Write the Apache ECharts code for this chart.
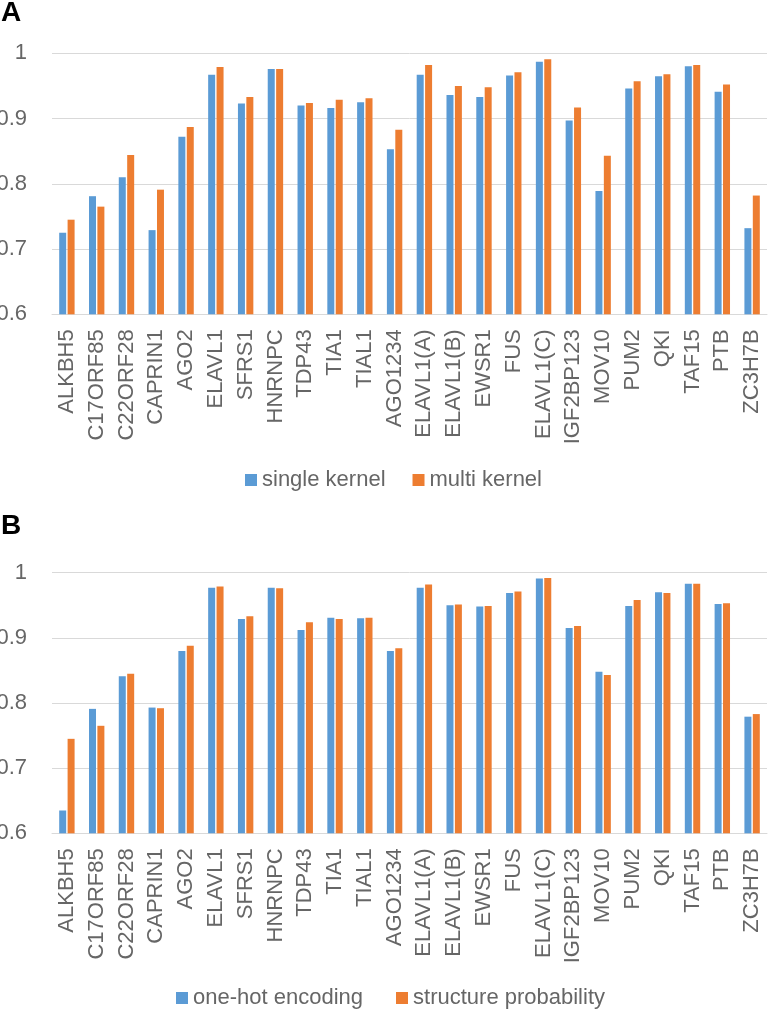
<!DOCTYPE html>
<html>
<head>
<meta charset="utf-8">
<script src="https://cdn.jsdelivr.net/npm/echarts@6/dist/echarts.min.js"></script>
<style>
html,body{margin:0;padding:0;background:#fff;}
#chart{width:768px;height:1011px;}
</style>
</head>
<body>
<div id="chart"></div>
<script>
const categories = ['ALKBH5','C17ORF85','C22ORF28','CAPRIN1','AGO2','ELAVL1','SFRS1','HNRNPC','TDP43','TIA1','TIAL1','AGO1234','ELAVL1(A)','ELAVL1(B)','EWSR1','FUS','ELAVL1(C)','IGF2BP123','MOV10','PUM2','QKI','TAF15','PTB','ZC3H7B'];
const singleKernel = [0.725,0.781,0.810,0.729,0.872,0.967,0.923,0.976,0.920,0.916,0.925,0.853,0.967,0.936,0.933,0.966,0.987,0.897,0.789,0.946,0.965,0.980,0.941,0.732];
const multiKernel  = [0.745,0.765,0.844,0.791,0.887,0.979,0.933,0.976,0.924,0.929,0.931,0.883,0.982,0.950,0.948,0.971,0.991,0.917,0.843,0.957,0.968,0.982,0.952,0.782];
const oneHot       = [0.635,0.791,0.841,0.793,0.880,0.977,0.929,0.977,0.912,0.931,0.930,0.880,0.977,0.950,0.948,0.969,0.991,0.915,0.848,0.949,0.970,0.983,0.952,0.779];
const structProb   = [0.745,0.765,0.845,0.792,0.888,0.979,0.933,0.976,0.924,0.929,0.931,0.884,0.982,0.951,0.949,0.971,0.992,0.918,0.843,0.958,0.969,0.983,0.953,0.783];
const yTicks = ['0.6','0.7','0.8','0.9','1'];
const seriesNamesA = ['single kernel','multi kernel'];
const seriesNamesB = ['one-hot encoding','structure probability'];

const BLUE = '#5B9BD5', ORANGE = '#ED7D31';
const TEXT = '#666666', GRID = '#d9d9d9';
const FONT = 'Arial, "Liberation Sans", sans-serif';

const chart = echarts.init(document.getElementById('chart'), null, {renderer:'canvas'});

function xAxis(gridIndex){
  return {
    type:'category', gridIndex, data: categories,
    axisLine:{show:true, lineStyle:{color:GRID, width:1}},
    axisTick:{show:false},
    axisLabel:{interval:0, rotate:90, margin:15, fontSize:22, color:TEXT, fontFamily:FONT}
  };
}
function yAxis(gridIndex){
  return {
    type:'value', gridIndex, min:0.6, max:1, interval:0.1,
    axisLine:{show:false}, axisTick:{show:false},
    splitLine:{show:true, lineStyle:{color:GRID, width:1}},
    axisLabel:{margin:25, fontSize:22, color:TEXT, fontFamily:FONT,
      formatter: v => yTicks[Math.round((v-0.6)*10)]}
  };
}
function bar(name, data, color, idx){
  return {
    name, type:'bar', xAxisIndex:idx, yAxisIndex:idx, data,
    barWidth:7, barGap:'20%',
    itemStyle:{color},
    emphasis:{disabled:true},
    animation:false
  };
}

chart.setOption({
  animation:false,
  backgroundColor:'#fff',
  grid:[
    {left:52, right:1, top:53.3, height:261, containLabel:false, outerBoundsMode:'none'},
    {left:52, right:1, top:572.7, height:260.6, containLabel:false, outerBoundsMode:'none'}
  ],
  xAxis:[xAxis(0), xAxis(1)],
  yAxis:[yAxis(0), yAxis(1)],
  legend:[
    {data:seriesNamesA, left:240, top:464, icon:'rect', itemWidth:12, itemHeight:12, itemGap:27,
     textStyle:{fontSize:22, color:TEXT, fontFamily:FONT}},
    {data:seriesNamesB, left:171, top:982, icon:'rect', itemWidth:12, itemHeight:12, itemGap:33,
     textStyle:{fontSize:22, color:TEXT, fontFamily:FONT}}
  ],
  graphic:[
    {type:'text', left:1, top:-1, style:{text:'A', fontSize:28, fontWeight:'bold', fill:'#000', fontFamily:FONT}},
    {type:'text', left:1, top:512, style:{text:'B', fontSize:28, fontWeight:'bold', fill:'#000', fontFamily:FONT}}
  ],
  series:[
    bar(seriesNamesA[0], singleKernel, BLUE, 0),
    bar(seriesNamesA[1], multiKernel, ORANGE, 0),
    bar(seriesNamesB[0], oneHot, BLUE, 1),
    bar(seriesNamesB[1], structProb, ORANGE, 1)
  ]
});
</script>
</body>
</html>
